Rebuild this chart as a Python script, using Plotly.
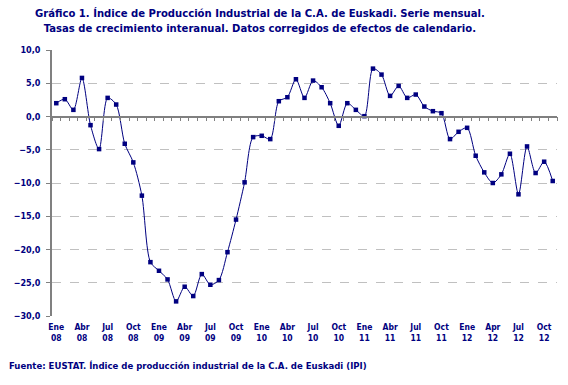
import plotly.graph_objects as go

months = ["Ene", "Feb", "Mar", "Abr", "May", "Jun", "Jul", "Ago", "Sep", "Oct", "Nov", "Dic"]
years = ["08", "09", "10", "11", "12"]
periods = [f"{m} {y}" for y in years for m in months][:59]

values = [2.0, 2.6, 1.0, 5.8, -1.3, -4.9, 2.8, 1.8, -4.1, -6.9, -11.9, -21.9,
          -23.2, -24.5, -27.8, -25.6, -27.0, -23.7, -25.3, -24.6, -20.4, -15.5, -9.9, -3.1,
          -2.9, -3.4, 2.3, 2.9, 5.6, 2.8, 5.4, 4.4, 2.0, -1.4, 2.0, 1.0,
          0.05, 7.2, 6.3, 3.1, 4.6, 2.8, 3.3, 1.5, 0.8, 0.5, -3.4, -2.3,
          -1.7, -5.9, -8.4, -10.0, -8.7, -5.6, -11.7, -4.5, -8.5, -6.8, -9.7]

tick_periods = ["Ene 08", "Abr 08", "Jul 08", "Oct 08", "Ene 09", "Abr 09", "Jul 09", "Oct 09",
                "Ene 10", "Abr 10", "Jul 10", "Oct 10", "Ene 11", "Abr 11", "Jul 11", "Oct 11",
                "Ene 12", "Abr 12", "Jul 12", "Oct 12"]
tick_text = ["Ene<br>08", "Abr<br>08", "Jul<br>08", "Oct<br>08", "Ene<br>09", "Abr<br>09",
             "Jul<br>09", "Oct<br>09", "Ene<br>10", "Abr<br>10", "Jul<br>10", "Oct<br>10",
             "Ene<br>11", "Abr<br>11", "Jul<br>11", "Oct<br>11", "Ene<br>12", "Apr<br>12",
             "Jul<br>12", "Oct<br>12"]

title_text = ("Gráfico 1. Índice de Producción Industrial de la C.A. de Euskadi. Serie mensual.<br>"
              "Tasas de crecimiento interanual. Datos corregidos de efectos de calendario.")
source_text = "Fuente: EUSTAT. Índice de producción industrial de la C.A. de Euskadi (IPI)"

NAVY = "#000080"
GRAY = "#808080"
FONT = "DejaVu Sans Condensed, DejaVu Sans"

fig = go.Figure()
fig.add_trace(go.Scatter(
    x=periods, y=values, mode="lines+markers",
    line=dict(color=NAVY, width=1, shape="spline", smoothing=0.8),
    marker=dict(symbol="square", size=4.5, color=NAVY),
    hoverinfo="x+y", showlegend=False,
))
# invisible copy to carry the zero-line axis
fig.add_trace(go.Scatter(
    x=periods, y=values, mode="lines", xaxis="x2",
    line=dict(width=0), opacity=0, hoverinfo="skip", showlegend=False,
))

fig.update_layout(
    width=568, height=385,
    margin=dict(l=52, r=11, t=50, b=69),
    paper_bgcolor="white", plot_bgcolor="white",
    separators=",.",
    xaxis=dict(type="category", categoryorder="array", categoryarray=periods,
               range=[-0.5, len(periods) - 0.5],
               tickvals=tick_periods, ticktext=tick_text, ticks="",
               ticklabelstandoff=4,
               showgrid=False, showline=False, zeroline=False,
               tickfont=dict(family=FONT, size=8.5, color=NAVY, weight="bold")),
    xaxis2=dict(type="category", categoryorder="array", categoryarray=periods,
                range=[-0.5, len(periods) - 0.5], overlaying="x", anchor="free",
                position=0.75, side="bottom", showticklabels=False,
                showline=True, linecolor=GRAY, linewidth=1.5,
                ticks="outside", tickson="boundaries", dtick=1, ticklen=4,
                tickcolor=GRAY, tickwidth=1, showgrid=False, zeroline=False),
    yaxis=dict(range=[-30, 10], dtick=5, tickformat=".1f",
               showgrid=True, gridcolor="#c0c0c0", griddash="dash", gridwidth=1,
               showline=True, linecolor=GRAY, linewidth=1.5,
               ticks="outside", ticklen=4, tickcolor=GRAY, zeroline=False,
               ticklabelstandoff=4,
               tickfont=dict(family=FONT, size=9, color=NAVY, weight="bold")),
    annotations=[
        dict(text=title_text, xref="paper", yref="paper",
             x=(260 - 52) / 505, y=1 + (50 - 5) / 266, xanchor="center", yanchor="top",
             showarrow=False, align="center",
             font=dict(family=FONT, size=11.2, color=NAVY, weight="bold")),
        dict(text=source_text, xref="paper", yref="paper",
             x=(7 - 52) / 505, y=(316 - 365) / 266, xanchor="left", yanchor="middle",
             showarrow=False,
             font=dict(family=FONT, size=9.5, color=NAVY, weight="bold")),
    ],
)

fig.write_html("out.html", config={"displayModeBar": False},
               post_script="document.body.style.margin='0';")
